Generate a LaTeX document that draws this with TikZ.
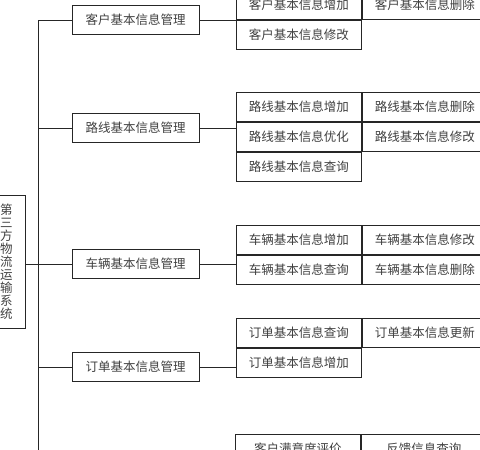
\documentclass[tikz,border=0pt]{standalone}
\usepackage{fontspec}
\setmainfont{Noto Sans CJK SC}
\usetikzlibrary{positioning}
\newcommand{\cnsize}{\fontsize{12.5}{13}\selectfont}
\tikzset{
  box/.style={draw=black!85, line width=0.9pt, text=black!75, font=\cnsize, inner sep=0pt},
  midbox/.style={box, minimum width=127pt, minimum height=29pt},
  cell/.style={box, minimum width=125pt, minimum height=29pt, anchor=north west},
  link/.style={draw=black!85, line width=0.8pt}
}
\begin{document}
\begin{tikzpicture}[x=1pt,y=-1pt]
\useasboundingbox (0,0) rectangle (480,450);
\clip (0,0) rectangle (480,450);
% root
\node[box, minimum width=37pt, minimum height=133pt, align=center] (root) at (6.5,261.5)
  {第\\三\\方\\物\\流\\运\\输\\系\\统};
% second level
\node[midbox] (kehu) at (135.5,20) {客户基本信息管理};
\node[midbox] (luxian) at (135.5,128) {路线基本信息管理};
\node[midbox] (cheliang) at (135.5,264) {车辆基本信息管理};
\node[midbox] (dingdan) at (135.5,367) {订单基本信息管理};
% leaves
\node[cell] (kehuA) at (236,-10) {客户基本信息增加};
\node[cell, right=0pt of kehuA] (kehuB) {客户基本信息删除};
\node[cell, below=0pt of kehuA] (kehuC) {客户基本信息修改};
\node[cell] (luxianA) at (236,92) {路线基本信息增加};
\node[cell, right=0pt of luxianA] (luxianB) {路线基本信息删除};
\node[cell, below=0pt of luxianA] (luxianC) {路线基本信息优化};
\node[cell, right=0pt of luxianC] (luxianD) {路线基本信息修改};
\node[cell, below=0pt of luxianC] (luxianE) {路线基本信息查询};
\node[cell] (cheliangA) at (236,225) {车辆基本信息增加};
\node[cell, right=0pt of cheliangA] (cheliangB) {车辆基本信息修改};
\node[cell, below=0pt of cheliangA] (cheliangC) {车辆基本信息查询};
\node[cell, right=0pt of cheliangC] (cheliangD) {车辆基本信息删除};
\node[cell] (dingdanA) at (236,318) {订单基本信息查询};
\node[cell, right=0pt of dingdanA] (dingdanB) {订单基本信息更新};
\node[cell, below=0pt of dingdanA] (dingdanC) {订单基本信息增加};
\node[cell] (pingjiaA) at (235,434) {客户满意度评价};
\node[cell, right=0pt of pingjiaA] (pingjiaB) {反馈信息查询};
% connectors
\coordinate (bustop) at (38,20);
\coordinate (busend) at (38,460);
\draw[link] (bustop) -- (busend);
\foreach \n/\m in {kehu/kehuA, luxian/luxianA, cheliang/cheliangA, dingdan/dingdanA}
{
  \draw[link] (\n.west) -- (\n.west -| bustop);
  \draw[link] (\n.east) -- (\n.east -| \m.west);
}
\draw[link] (root.east |- cheliang.west) -- (cheliang.west -| bustop);
\end{tikzpicture}
\end{document}
